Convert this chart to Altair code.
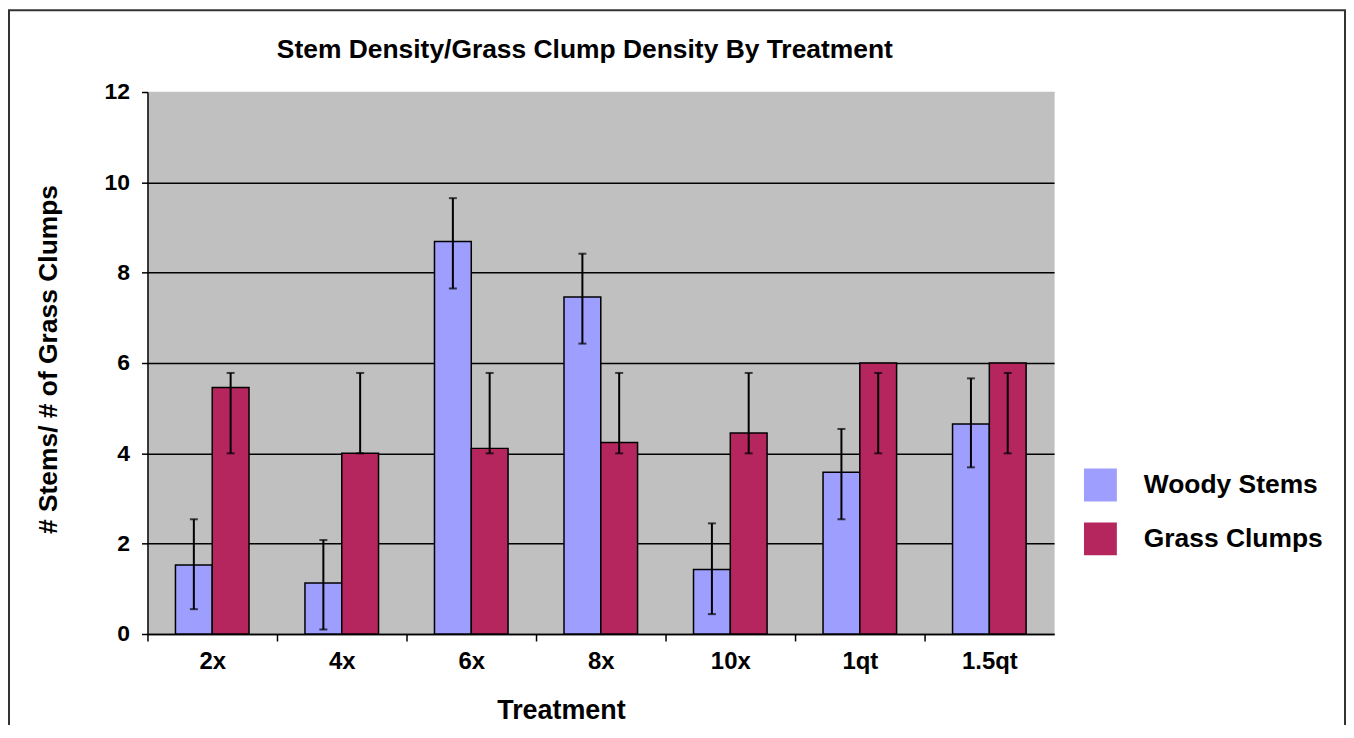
import altair as alt
import pandas as pd

treatments = ["2x", "4x", "6x", "8x", "10x", "1qt", "1.5qt"]
series_names = ["Woody Stems", "Grass Clumps"]

woody = [1.53, 1.13, 8.69, 7.46, 1.43, 3.58, 4.65]
woody_lo = [0.55, 0.10, 7.65, 6.43, 0.44, 2.54, 3.69]
woody_hi = [2.54, 2.08, 9.65, 8.42, 2.45, 4.54, 5.66]

grass = [5.46, 4.00, 4.11, 4.24, 4.45, 6.00, 6.00]
grass_lo = [4.00, 4.00, 4.00, 4.00, 4.00, 4.00, 4.00]
grass_hi = [5.78, 5.78, 5.78, 5.78, 5.78, 5.78, 5.78]

rows = []
for i, t in enumerate(treatments):
    rows.append({"treatment": t, "series": series_names[0], "value": woody[i], "lo": woody_lo[i], "hi": woody_hi[i]})
    rows.append({"treatment": t, "series": series_names[1], "value": grass[i], "lo": grass_lo[i], "hi": grass_hi[i]})
df = pd.DataFrame(rows)

FONT = "Liberation Sans"
W, H = 910, 544

x_enc = alt.X(
    "treatment:N",
    sort=treatments,
    scale=alt.Scale(domain=treatments, paddingInner=0.432, paddingOuter=0.216),
    axis=alt.Axis(
        title="Treatment", titleFont=FONT, titleFontSize=27, titleFontWeight="bold", titleColor="black",
        titleX=415, titleY=85, titleBaseline="alphabetic", titleAlign="center", titleAnchor="start",
        labelFont=FONT, labelFontSize=24, labelFontWeight="bold", labelColor="black", labelAngle=0,
        labelPadding=9, tickOffset=-65, labelOffset=65, tickSize=7, tickColor="black", tickWidth=1.5,
        domainColor="black", domainWidth=1.5, grid=False,
    ),
)
xo_enc = alt.XOffset("series:N", sort=series_names,
                     scale=alt.Scale(domain=series_names, paddingInner=0, paddingOuter=0))

y_axis = alt.Axis(
    title="# Stems/ # of Grass Clumps", titleFont=FONT, titleFontSize=26.5, titleFontWeight="bold", titleColor="black",
    titleX=-91, titleY=268, titleAngle=-90, titleBaseline="alphabetic", titleAlign="center", titleAnchor="start",
    values=[0, 2, 4, 6, 8, 10, 12], labelFont=FONT, labelFontSize=23, labelFontWeight="bold", labelColor="black",
    labelPadding=12, tickSize=6, tickColor="black", tickWidth=1.5, domainColor="black", domainWidth=1.5,
    grid=True, gridColor=alt.condition("datum.value == 12", alt.value("#C0C0C0"), alt.value("black")),
    gridWidth=1.5,
)


def y_enc(field):
    return alt.Y(field, type="quantitative", scale=alt.Scale(domain=[0, 12], nice=False, zero=True), axis=y_axis)


base = alt.Chart(df)

bars = base.mark_bar(stroke="black", strokeWidth=1.5).encode(
    x=x_enc,
    xOffset=xo_enc,
    y=y_enc("value"),
    color=alt.Color(
        "series:N",
        sort=series_names,
        scale=alt.Scale(domain=series_names, range=["#9E9EFF", "#B5265E"]),
        legend=alt.Legend(
            title=None, orient="none", legendX=940, legendY=378, padding=0,
            symbolType="square", symbolSize=1089, symbolStrokeWidth=0, symbolOpacity=1,
            labelFont=FONT, labelFontSize=26.5, labelFontWeight="bold", labelColor="black",
            labelOffset=27, rowPadding=21, labelLimit=400,
        ),
    ),
)

rules = base.mark_rule(color="black", strokeWidth=2).encode(
    x=x_enc, xOffset=xo_enc, y=y_enc("lo"), y2="hi:Q"
)
caps_lo = base.mark_tick(color="black", thickness=2, size=8).encode(x=x_enc, xOffset=xo_enc, y=y_enc("lo"))
caps_hi = base.mark_tick(color="black", thickness=2, size=8).encode(x=x_enc, xOffset=xo_enc, y=y_enc("hi"))

frame = alt.Chart(pd.DataFrame({"k": [0]})).mark_rect(
    fill="transparent", stroke="#333333", strokeWidth=2
).encode(x=alt.value(-139), x2=alt.value(1202), y=alt.value(-82), y2=alt.value(720))

chart = alt.layer(bars, rules, caps_lo, caps_hi, frame).properties(
    width=W,
    height=H,
    background="white",
    title=alt.TitleParams(
        "Stem Density/Grass Clump Density By Treatment", font=FONT, fontSize=26.5, fontWeight="bold",
        color="black", dx=-16, dy=75, offset=0, anchor="middle", frame="group", baseline="alphabetic",
    ),
    autosize=alt.AutoSizeParams(type="none"),
    padding={"left": 140, "top": 83, "right": 293, "bottom": 90},
).configure_view(fill="#C0C0C0", stroke="transparent")

chart.save("out.html", embed_options={"renderer": "svg", "actions": False})
